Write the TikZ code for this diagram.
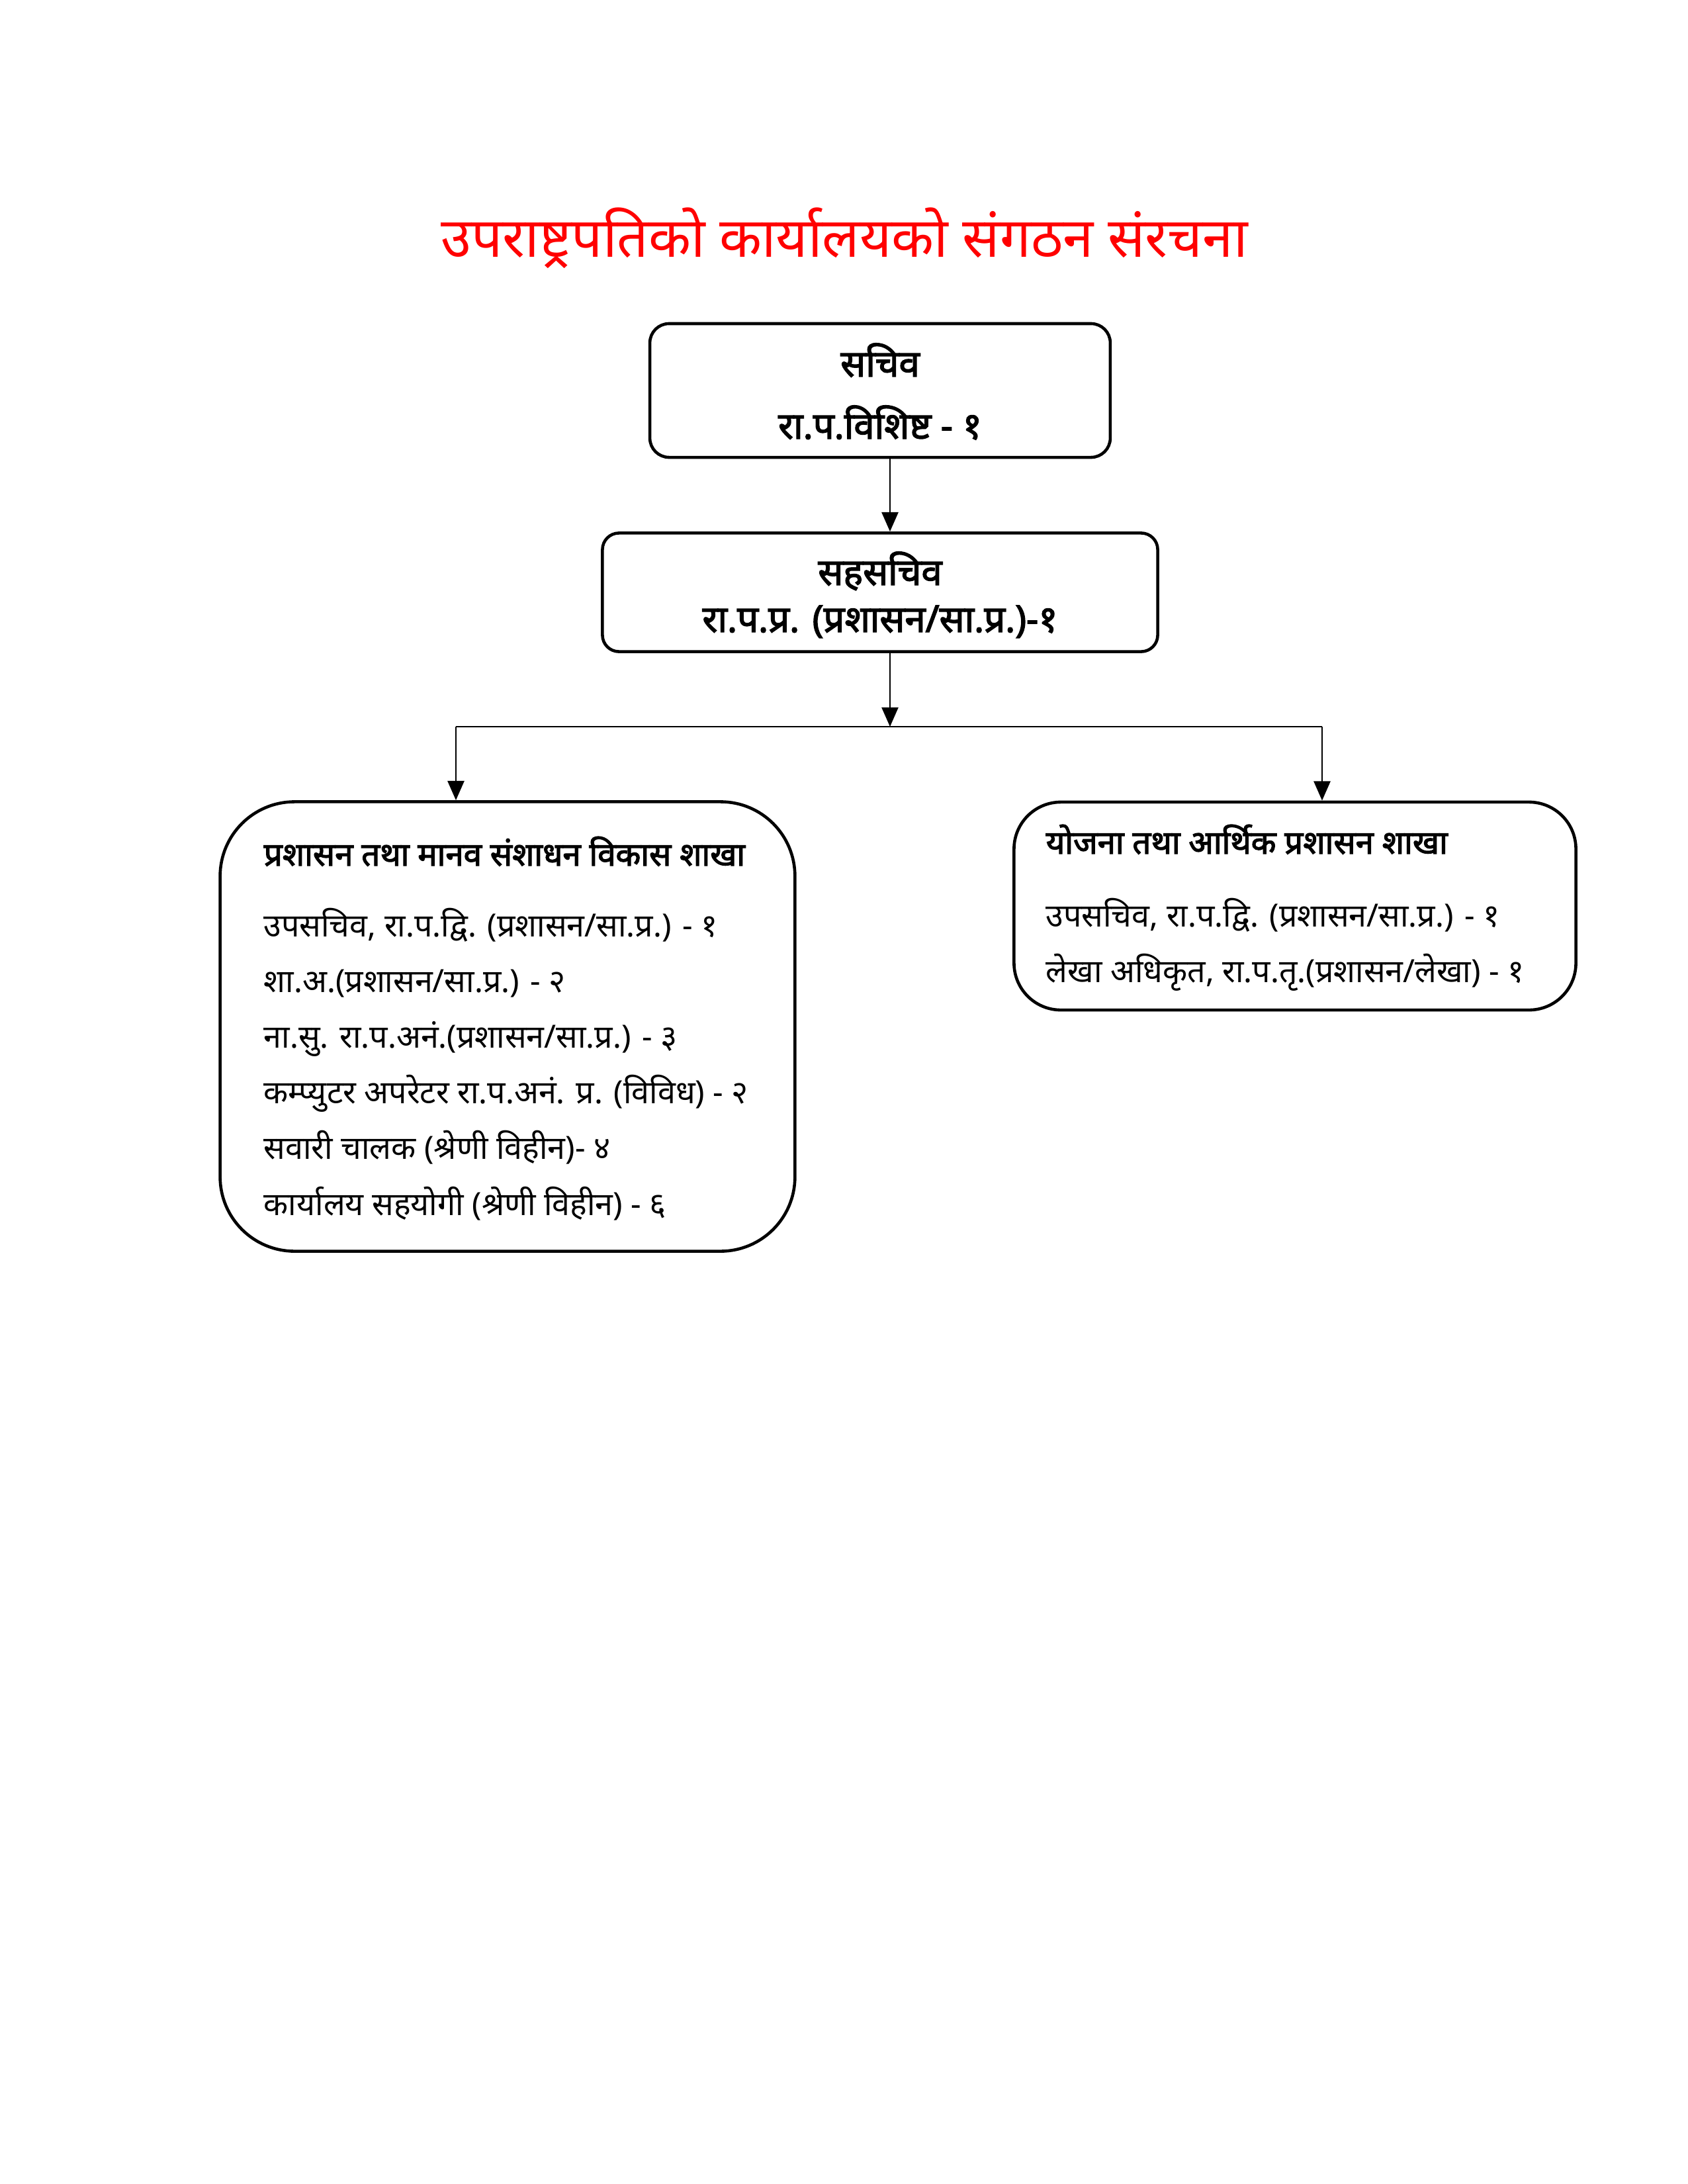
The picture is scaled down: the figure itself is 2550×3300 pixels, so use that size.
\documentclass[tikz,border=0pt]{standalone}
\usepackage{fontspec}
\newfontfamily\devfont[Script=Devanagari]{Noto Sans}
\newfontfamily\devbold[Script=Devanagari,FakeBold=2.5]{Noto Sans}
\usetikzlibrary{arrows.meta}

\begin{document}
\begin{tikzpicture}[x=0.24pt,y=-0.24pt,
  box/.style={draw,line width=1.1pt,rounded corners=#1,inner sep=0pt},
  arr/.style={-{Triangle[length=7pt,width=6pt]},line width=0.6pt},
  post/.style={font=\devbold\fontsize{13.5}{16}\selectfont,anchor=base,inner sep=0pt},
  head/.style={font=\devbold\fontsize{11.8}{14}\selectfont,anchor=base west,inner sep=0pt},
  entry/.style={font=\devfont\fontsize{11.6}{14}\selectfont,anchor=base west,inner sep=0pt}]
\useasboundingbox (0,0) rectangle (2550,3300);
\node[text=red,font=\devfont\fontsize{20}{24}\selectfont,anchor=base] (title) at (1276,388) {उपराष्ट्रपतिको कार्यालयको संगठन संरचना};
\node[box=7pt,minimum width=167pt,minimum height=48.5pt] (sachiv) at (1330,590) {};
\node[post] (sachivA) at (1330,569) {सचिव};
\node[post] (sachivB) at (1330,663) {रा.प.विशिष्ट - १};
\node[box=6pt,minimum width=201.4pt,minimum height=43pt] (sahsachiv) at (1330,895) {};
\node[post] (sahsachivA) at (1330,884) {सहसचिव};
\node[post] (sahsachivB) at (1330,955) {रा.प.प्र. (प्रशासन/सा.प्र.)-१};
\node[box=27pt,minimum width=208.5pt,minimum height=163pt] (prashasan) at (767,1551) {};
\node[box=17pt,minimum width=203.8pt,minimum height=75.4pt] (yojana) at (1957,1369) {};
\coordinate (split) at (1345,1098);
\coordinate (lsplit) at (689,1098);
\coordinate (rsplit) at (1998,1098);
\draw[arr] (sachiv.south -| split) -- (sahsachiv.north -| split);
\draw[arr] (sahsachiv.south -| split) -- (split);
\draw[line width=0.6pt] (lsplit) -- (rsplit);
\draw[arr] (lsplit) -- (prashasan.north -| lsplit);
\draw[arr] (rsplit) -- (yojana.north -| rsplit);
% branch contents
\node[head] (prashasanH) at (398,1308) {प्रशासन तथा मानव संशाधन विकास शाखा};
\foreach \t [count=\i from 0] in {{उपसचिव, रा.प.द्वि. (प्रशासन/सा.प्र.) - १},{शा.अ.(प्रशासन/सा.प्र.) - २},{ना.सु. रा.प.अनं.(प्रशासन/सा.प्र.) - ३},{कम्प्युटर अपरेटर रा.प.अनं. प्र. (विविध) - २},{सवारी चालक (श्रेणी विहीन)- ४},{कार्यालय सहयोगी (श्रेणी विहीन) - ६}}
  \node[entry] (prashasan\i) at (398,1415+84.2*\i) {\t};
\node[head] (yojanaH) at (1580,1290) {योजना तथा आर्थिक प्रशासन शाखा};
\node[entry] (yojana0) at (1580,1400) {उपसचिव, रा.प.द्वि. (प्रशासन/सा.प्र.) - १};
\node[entry] (yojana1) at (1580,1484) {लेखा अधिकृत, रा.प.तृ.(प्रशासन/लेखा) - १};
\end{tikzpicture}
\end{document}
